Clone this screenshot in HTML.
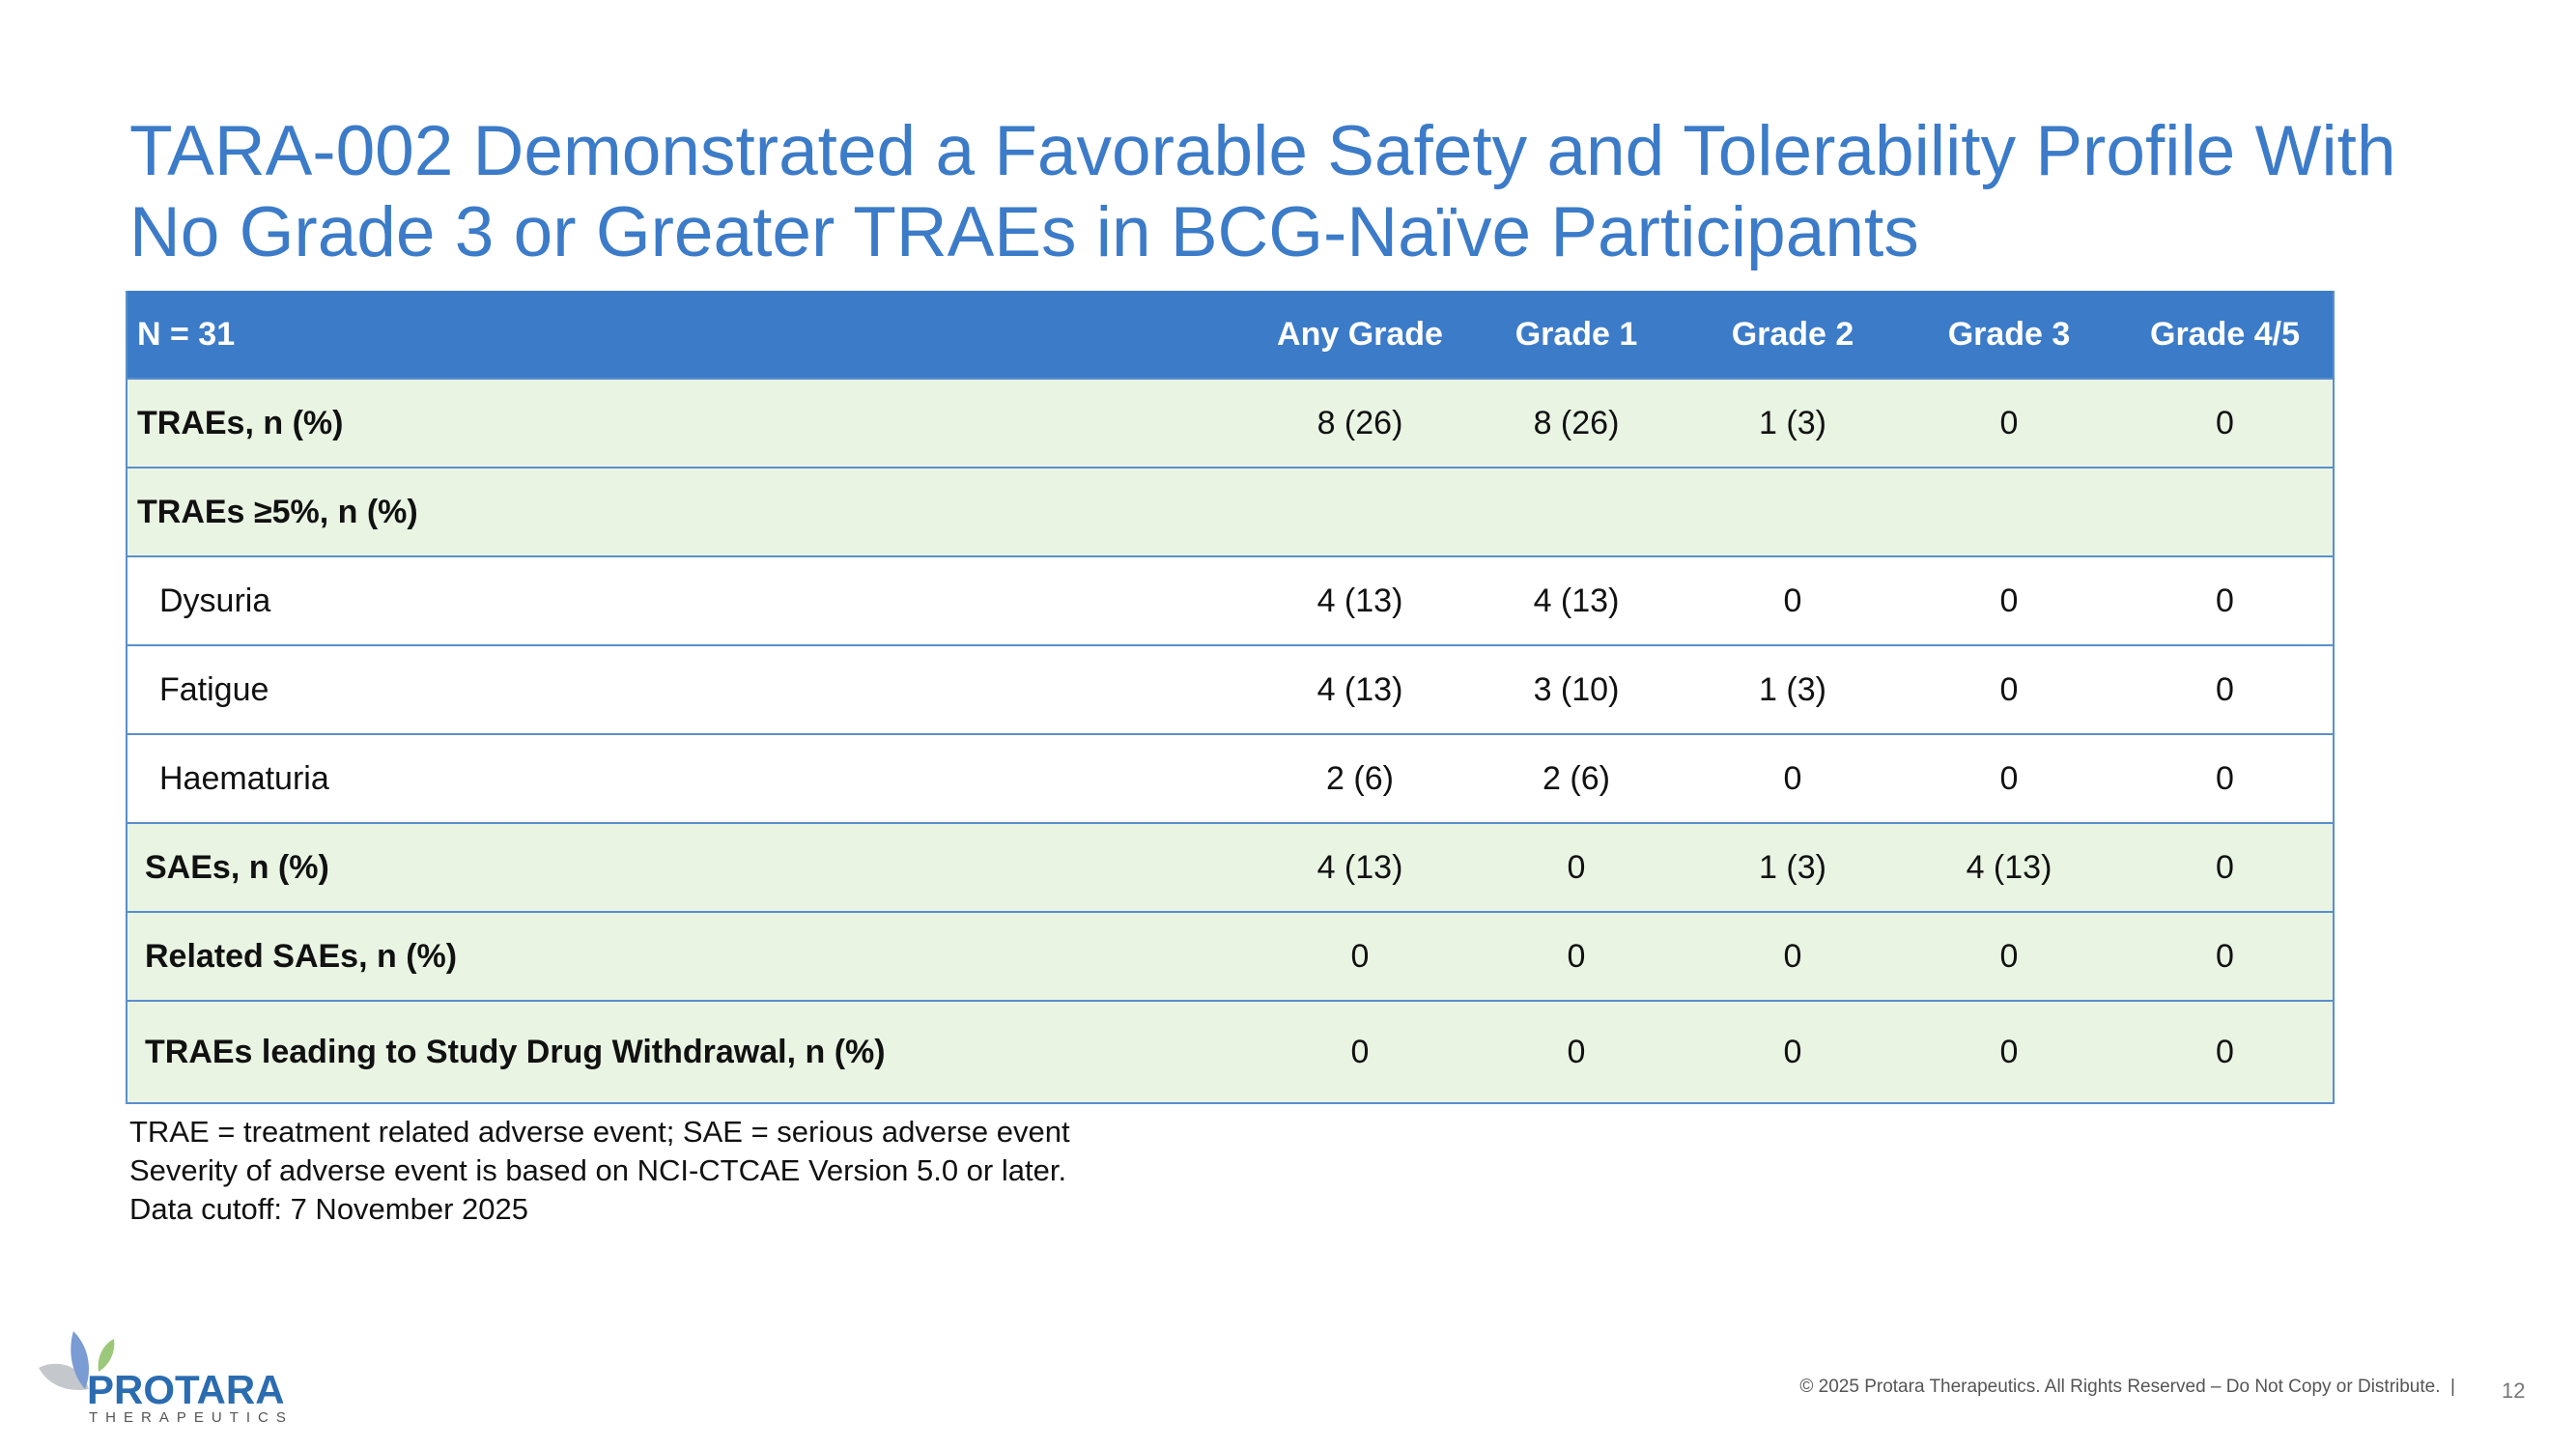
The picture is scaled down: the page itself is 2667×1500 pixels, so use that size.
<!DOCTYPE html>
<html><head><meta charset="utf-8"><style>
body{margin:0;width:2667px;height:1500px;background:#fff;position:relative;overflow:hidden;font-family:"Liberation Sans",sans-serif}
.t{position:absolute;left:134px;color:#3c7bc8;font-size:73px;white-space:nowrap;line-height:1}
table{position:absolute;left:130px;top:301px;width:2285px;border-collapse:collapse;table-layout:fixed;font-size:34px}
td,th{padding:0;white-space:nowrap}
th{background:#3c7bc8;color:#fff;height:90px;font-weight:bold;text-align:center}
td{border-top:2px solid #5a8fcc;text-align:center;color:#111;height:90px}
tr.g td{background:#e9f4e3}
td.l{text-align:left}
table{border-left:2px solid #5a8fcc;border-right:2px solid #5a8fcc;border-bottom:2px solid #5a8fcc}
.fn{position:absolute;left:134px;font-size:31px;color:#111;white-space:nowrap}
</style></head><body>
<div class="t" style="top:120px">TARA-002 Demonstrated a Favorable Safety and Tolerability Profile With</div>
<div class="t" style="top:204px">No Grade 3 or Greater TRAEs in BCG-Naïve Participants</div>
<table>
<colgroup><col style="width:1165px"><col style="width:224px"><col style="width:224px"><col style="width:224px"><col style="width:224px"><col style="width:224px"></colgroup>
<tr><th style="text-align:left;padding-left:10px">N = 31</th><th>Any Grade</th><th>Grade 1</th><th>Grade 2</th><th>Grade 3</th><th>Grade 4/5</th></tr>
<tr class="g"><td class="l" style="font-weight:bold;padding-left:10px">TRAEs, n (%)</td><td>8 (26)</td><td>8 (26)</td><td>1 (3)</td><td>0</td><td>0</td></tr>
<tr class="g"><td class="l" style="font-weight:bold;padding-left:10px">TRAEs ≥5%, n (%)</td><td></td><td></td><td></td><td></td><td></td></tr>
<tr><td class="l" style="padding-left:33px">Dysuria</td><td>4 (13)</td><td>4 (13)</td><td>0</td><td>0</td><td>0</td></tr>
<tr><td class="l" style="padding-left:33px">Fatigue</td><td>4 (13)</td><td>3 (10)</td><td>1 (3)</td><td>0</td><td>0</td></tr>
<tr><td class="l" style="padding-left:33px">Haematuria</td><td>2 (6)</td><td>2 (6)</td><td>0</td><td>0</td><td>0</td></tr>
<tr class="g"><td class="l" style="font-weight:bold;padding-left:18px">SAEs, n (%)</td><td>4 (13)</td><td>0</td><td>1 (3)</td><td>4 (13)</td><td>0</td></tr>
<tr class="g"><td class="l" style="font-weight:bold;padding-left:18px">Related SAEs, n (%)</td><td>0</td><td>0</td><td>0</td><td>0</td><td>0</td></tr>
<tr class="g"><td class="l" style="font-weight:bold;padding-left:18px;height:104px">TRAEs leading to Study Drug Withdrawal, n (%)</td><td>0</td><td>0</td><td>0</td><td>0</td><td>0</td></tr>
</table>
<div class="fn" style="top:1154px">TRAE = treatment related adverse event; SAE = serious adverse event</div>
<div class="fn" style="top:1194px">Severity of adverse event is based on NCI-CTCAE Version 5.0 or later.</div>
<div class="fn" style="top:1234px">Data cutoff: 7 November 2025</div>
<svg style="position:absolute;left:40px;top:1376px" width="270" height="100">
<path d="M0,40 C20,30 45,38 52,62 C30,66 10,58 0,40Z" fill="#c4c8cc"/>
<path d="M36,2 C52,18 56,42 48,62 C34,46 30,22 36,2Z" fill="#7a9bd3"/>
<path d="M78,10 C80,26 72,38 62,44 C60,30 66,16 78,10Z" fill="#9cc87a"/>
<text x="50" y="77" font-family="Liberation Sans" font-size="42" fill="#2b6cb0" font-weight="bold">PROTARA</text>
<text x="52" y="96" font-family="Liberation Sans" font-size="15" fill="#555" letter-spacing="8">THERAPEUTICS</text>
</svg>
<div style="position:absolute;right:125px;top:1425px;font-size:19px;color:#555;white-space:nowrap">© 2025 Protara Therapeutics. All Rights Reserved – Do Not Copy or Distribute. &nbsp;|</div>
<div style="position:absolute;left:2590px;top:1427px;font-size:22px;color:#777">12</div>
</body></html>
